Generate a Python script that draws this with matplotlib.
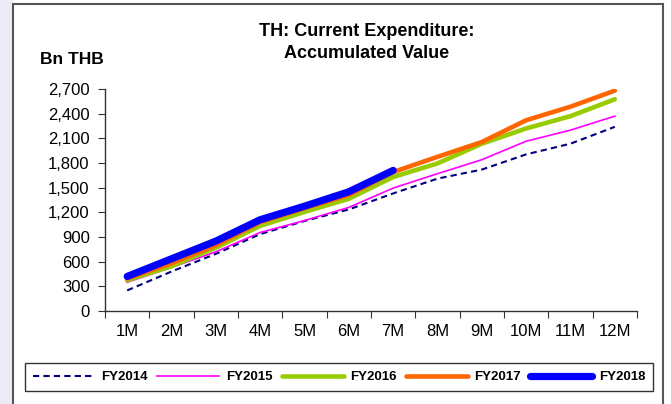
import matplotlib
matplotlib.use("Agg")
import matplotlib.pyplot as plt
import numpy as np
from matplotlib.patches import Rectangle

plt.rcParams['font.family'] = ['Liberation Sans', 'DejaVu Sans']

months = ['1M', '2M', '3M', '4M', '5M', '6M', '7M', '8M', '9M', '10M', '11M', '12M']

# Accumulated current expenditure, Bn THB
fy2014 = [250, 480, 695, 935, 1095, 1235, 1430, 1610, 1720, 1905, 2035, 2240]
fy2015 = [350, 530, 720, 955, 1100, 1260, 1495, 1670, 1840, 2065, 2200, 2370]
fy2016 = [375, 545, 770, 1035, 1205, 1365, 1630, 1795, 2035, 2220, 2370, 2575]
fy2017 = [395, 580, 800, 1080, 1250, 1410, 1690, 1875, 2055, 2320, 2485, 2680]
fy2018 = [420, 635, 850, 1110, 1275, 1450, 1710]

yticks = np.arange(0, 2701, 300)

W, H = 671, 404
fig = plt.figure(figsize=(W / 100, H / 100), dpi=100)
fig.patch.set_facecolor('white')

# pale strip on the left and the chart frame
fig.add_artist(Rectangle((0, 0), 13 / W, 1, transform=fig.transFigure,
                         facecolor='#ececf6', edgecolor='none', zorder=0))
fig.add_artist(Rectangle((13 / W, -0.05), 650 / W, 1.05 - 4 / H, transform=fig.transFigure,
                         facecolor='none', edgecolor='#555555', lw=1.5, zorder=1))

ax = fig.add_axes([105 / W, 1 - 311 / H, 532 / W, 222 / H])
x = np.arange(1, 13)

ax.plot(x, fy2014, color='#000080', lw=1.5, ls=(0, (3, 2)), label='FY2014')
ax.plot(x, fy2015, color='#ff00ff', lw=1.2, label='FY2015')
ax.plot(x, fy2016, color='#99cc00', lw=3.3, label='FY2016', solid_capstyle='round')
ax.plot(x, fy2017, color='#ff6600', lw=3.3, label='FY2017', solid_capstyle='round')
ax.plot(x[:len(fy2018)], fy2018, color='#0000ff', lw=5.2, label='FY2018',
        solid_capstyle='round')

ax.set_xlim(0.5, 12.5)
ax.set_ylim(0, 2700)
ax.set_yticks(yticks)
ax.set_yticklabels([f'{v:,}' for v in yticks])
ax.set_xticks(np.arange(0.5, 12.6, 1))
ax.set_xticklabels([])
ax.set_xticks(x, minor=True)
ax.set_xticklabels(months, minor=True)
ax.tick_params(axis='x', which='minor', length=0, pad=9, labelsize=12)
ax.tick_params(axis='x', which='major', length=5, direction='out', color='#333333')
ax.tick_params(axis='y', length=5, direction='out', color='#333333', labelsize=12, pad=6)
for s in ['top', 'right']:
    ax.spines[s].set_visible(False)
for s in ['left', 'bottom']:
    ax.spines[s].set_color('#333333')
    ax.spines[s].set_linewidth(1.0)

fig.text(367 / W, 1 - 32 / H, 'TH: Current Expenditure:', ha='center', va='center',
         fontsize=13, fontweight='bold')
fig.text(367 / W, 1 - 53 / H, 'Accumulated Value', ha='center', va='center',
         fontsize=13, fontweight='bold')
fig.text(40 / W, 1 - 59 / H, 'Bn THB', ha='left', va='center', fontsize=12.5, fontweight='bold')

leg = fig.legend(loc='center', bbox_to_anchor=(339 / W, 1 - 377 / H), ncol=5,
                 prop={'weight': 'bold', 'size': 9.5}, handlelength=4.7,
                 handletextpad=0.5, columnspacing=0.7, fancybox=False,
                 edgecolor='black', borderpad=0.6, borderaxespad=0)
leg.get_frame().set_linewidth(1.0)

fig.savefig('out.png', dpi=100, facecolor='white')
